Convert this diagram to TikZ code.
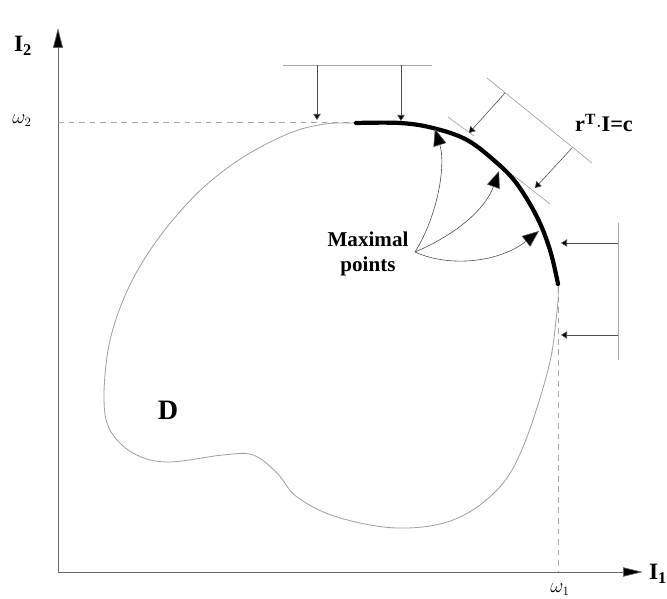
\documentclass[tikz,border=0pt]{standalone}
\usepackage{fontspec}
\setmainfont{Liberation Serif}
\usetikzlibrary{arrows.meta}
\begin{document}
\begin{tikzpicture}[x=0.03cm,y=-0.03cm,
  axisline/.style={draw=gray!80!black, line width=0.6pt},
  thinline/.style={draw=gray!70, line width=0.6pt},
  dashline/.style={draw=gray!70, line width=0.6pt, dash pattern=on 5pt off 4pt},
  boundary/.style={draw=gray!75, line width=0.7pt},
  thickarc/.style={draw=black, line width=3.6pt, line cap=round},
  smallarrow/.style={draw=gray!60!black, line width=0.5pt, -{Triangle[length=1.8mm,width=2.2mm,fill=black]}},
  bigarrow/.style={draw=gray!60!black, line width=0.5pt, -{Triangle[length=5mm,width=4mm,fill=black]}},
  lbl/.style={font=\bfseries\fontsize{17}{19}\selectfont, inner sep=1pt}
]
\useasboundingbox (0,0) rectangle (667,599);
% axes
\coordinate (O) at (58,572);
\coordinate (Ytip) at (58,28);
\coordinate (Xtip) at (643,572);
\draw[axisline, -{Triangle[length=6mm,width=3mm,fill=black]}] (O) -- (Ytip);
\draw[axisline, -{Triangle[length=6mm,width=2.8mm,fill=black]}] (O) -- (Xtip);
\node[lbl, font=\bfseries\fontsize{20}{22}\selectfont] (I2) at (23,46) {I\textsubscript{2}};
\node[lbl, font=\fontsize{16}{18}\selectfont] (w2) at (22,121) {$\omega_2$};
\node[lbl, font=\bfseries\fontsize{20}{22}\selectfont] (I1) at (658,574) {I\textsubscript{1}};
\node[lbl, font=\fontsize{16}{18}\selectfont] (w1) at (560,590) {$\omega_1$};
% helper dashed lines
\coordinate (w2a) at (58,122);
\coordinate (w2b) at (356,122);
\coordinate (w1a) at (558,286);
\coordinate (w1b) at (558,572);
\draw[dashline] (w2a) -- (w2b);
\draw[dashline] (w1a) -- (w1b);
% region D boundary
\draw[boundary] plot[smooth cycle, tension=0.6] coordinates {
 (356,123) (400,123) (433,128) (467,140) (497,163) (517,184) (537,217) (550,250) (558,284)
 (556,320) (548,370) (523,447) (497,490) (453,520) (397,528) (337,517)
 (297,497) (277,473) (253,455) (223,455) (167,462) (133,453) (110,430)
 (104,398) (109,345) (124,298) (145,258) (172,221) (205,186) (245,156) (290,133) (325,124)};
% efficient (maximal) arc
\draw[thickarc] plot[smooth, tension=0.6] coordinates {
 (356,123) (400,123) (433,128) (467,140) (497,163) (517,184) (537,217) (550,250) (558,284)};
\node[lbl, font=\bfseries\fontsize{24}{26}\selectfont] (D) at (168,410) {D};
% top level line with arrows
\coordinate (t1) at (283,65);
\coordinate (t2) at (432,65);
\coordinate (ta) at (317,65);
\coordinate (tae) at (317,120);
\coordinate (tb) at (401,65);
\coordinate (tbe) at (401,121);
\draw[thinline] (t1) -- (t2);
\draw[smallarrow] (ta) -- (tae);
\draw[smallarrow] (tb) -- (tbe);
% r^T I = c lines
\coordinate (L1) at (487,78);
\coordinate (L2) at (592,163);
\coordinate (s1a) at (448,117);
\coordinate (s1b) at (474,136);
\coordinate (s2a) at (513,175);
\coordinate (s2b) at (550,204);
\draw[thinline] (L1) -- (L2);
\draw[thinline] (s1a) -- (s1b);
\draw[thinline] (s2a) -- (s2b);
\coordinate (a1s) at (505,93);
\coordinate (a1e) at (469,133);
\coordinate (a2s) at (572,148);
\coordinate (a2e) at (535,188);
\draw[smallarrow] (a1s) -- (a1e);
\draw[smallarrow] (a2s) -- (a2e);
\node[lbl, font=\bfseries\fontsize{19}{21}\selectfont] (rIc) at (604,123) {r\textsuperscript{T}$\cdot$I=c};
% right level line with arrows
\coordinate (v1) at (618,223);
\coordinate (v2) at (618,360);
\coordinate (ra) at (618,243);
\coordinate (rae) at (561,243);
\coordinate (rb) at (618,335);
\coordinate (rbe) at (561,335);
\draw[thinline] (v1) -- (v2);
\draw[smallarrow] (ra) -- (rae);
\draw[smallarrow] (rb) -- (rbe);
% maximal points
\node[lbl, align=center, font=\bfseries\fontsize{18}{22}\selectfont] (mpl) at (368,254) {Maximal\\points};
\coordinate (mp) at (415,252);
\coordinate (m1) at (435,129);
\coordinate (m2) at (499,171);
\coordinate (m3) at (539,231);
\draw[bigarrow] (mp) .. controls (438,215) and (446,165) .. (m1);
\draw[bigarrow] (mp) .. controls (455,235) and (485,210) .. (m2);
\draw[bigarrow] (mp) .. controls (450,268) and (500,262) .. (m3);
\end{tikzpicture}
\end{document}
